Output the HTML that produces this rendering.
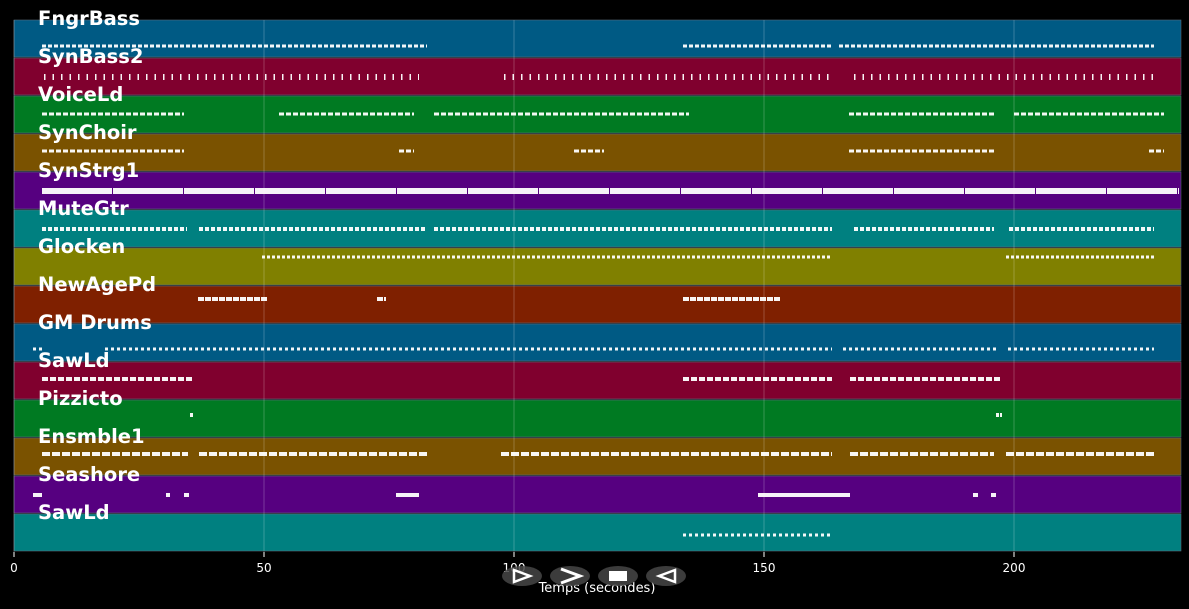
<!DOCTYPE html>
<html><head><meta charset="utf-8"><style>
body{margin:0;background:#000;width:1189px;height:605px;overflow:hidden;font-family:"DejaVu Sans","Liberation Sans",sans-serif}
</style></head><body>
<svg id="chart" width="1189" height="605" xmlns="http://www.w3.org/2000/svg" font-family="DejaVu Sans, Liberation Sans, sans-serif"></svg>
<script>
const trackNames=["FngrBass","SynBass2","VoiceLd","SynChoir","SynStrg1","MuteGtr","Glocken","NewAgePd","GM Drums","SawLd","Pizzicto","Ensmble1","Seashore","SawLd"];
const trackColors=["#005a84","#80002e","#007a22","#7a5200","#560080","#008080","#808000","#7f2000","#005a84","#80002e","#007a22","#7a5200","#560080","#008080"];
const noteSegments=[
 [[5.6,82.6],[133.8,163.6],[165,228]],
 [[6,81],[98,164],[168,228]],
 [[5.6,34],[53,80],[84,135],[167,196],[200,230]],
 [[5.6,34],[77,80],[112,118],[167,196],[227,230]],
 [[5.6,233]],
 [[5.6,34.6],[37,82.6],[84,163.6],[168,196],[199,228]],
 [[49.6,163.6],[198.4,228]],
 [[36.8,50.6],[72.6,74.4],[133.8,153.2]],
 [[3.8,5.6],[18.2,163.6],[165.8,196.8],[198.8,228]],
 [[5.6,36],[133.8,163.6],[167.2,197.6]],
 [[35.2,36],[196.4,197.6]],
 [[5.6,34.8],[37,82.6],[97.4,163.6],[167.2,196],[198.4,228]],
 [[3.8,5.6],[30.4,31.2],[34,35],[76.4,81],[148.8,167.2],[191.8,192.8],[195.4,196.4]],
 [[133.8,163.6]]
];
const noteOffsets=[26,19,18,17,19,19,9,13,25,17,15,16,19,21];
const noteStyles=[[3,"4 2"],[6,"1.5 7"],[3,"5 2"],[3,"5 2"],[6,"70 1"],[4,"4 2"],[3,"3 2"],[4,"6 1"],[3,"3 3"],[4,"6 2"],[4,"3 1"],[4,"8 2"],[4,"20 0"],[3,"3 3"]];
const xTicks=[0,50,100,150,200];
const NS="http://www.w3.org/2000/svg";
const svg=document.getElementById('chart');
const x0=14,x1=1181,tMax=233.4,top0=20,bandH=38;
const xs=t=>x0+(t)*(x1-x0)/tMax;
function mk(tag,attrs){const e=document.createElementNS(NS,tag);for(const k in attrs)e.setAttribute(k,attrs[k]);svg.appendChild(e);return e;}
trackNames.forEach((n,i)=>{
 const r=mk('rect',{x:x0,y:top0+i*bandH,width:x1-x0,height:bandH-1,fill:trackColors[i],stroke:'#5a6a7a','stroke-width':0.6});
 
 
});
xTicks.forEach(t=>{
 const g=mk('line',{x1:xs(t),x2:xs(t),y1:top0,y2:552,stroke:'rgba(255,255,255,0.22)','stroke-width':1});
 
 
 const tk=mk('line',{x1:xs(t),x2:xs(t),y1:552,y2:557,stroke:'#fff','stroke-width':1});
 
 
 const tl=mk('text',{x:xs(t),y:572,fill:'#fff','font-size':12,'text-anchor':'middle'});
 tl.textContent=t;
 
 
});
noteSegments.forEach((segs,i)=>{
 const y=top0+i*bandH+noteOffsets[i];
 segs.forEach((s,j)=>{
  const l=mk('line',{x1:xs(s[0]),x2:xs(s[1]),y1:y,y2:y,stroke:'#fff','stroke-width':noteStyles[i][0],'stroke-dasharray':noteStyles[i][1],opacity:0.95});
  
  
 });
});
trackNames.forEach((n,i)=>{
 const t=mk('text',{x:38,y:top0+i*bandH+5,fill:'#fff','font-size':19.5,'font-weight':'bold'});
 t.textContent=n;
 
 
});
const xl=mk('text',{x:597,y:592,fill:'#fff','font-size':13,'text-anchor':'middle'});
xl.textContent='Temps (secondes)';


const btns=[[522,'play'],[570,'forward'],[618,'stop'],[666,'back']];
btns.forEach(b=>{
 const e=mk('ellipse',{cx:b[0],cy:576,rx:20,ry:10,fill:'rgba(70,70,70,0.85)'});
 
 
});
mk('path',{d:'M514 570 L530 576 L514 582 Z',fill:'none',stroke:'#fff','stroke-width':2.5});
mk('path',{d:'M561 569 L580 576 L561 583',fill:'none',stroke:'#fff','stroke-width':3});
mk('rect',{x:609,y:571,width:18,height:10,fill:'#fff'});
mk('path',{d:'M675 570 L659 576 L675 582 Z',fill:'none',stroke:'#fff','stroke-width':2.5});
</script>
</body></html>
